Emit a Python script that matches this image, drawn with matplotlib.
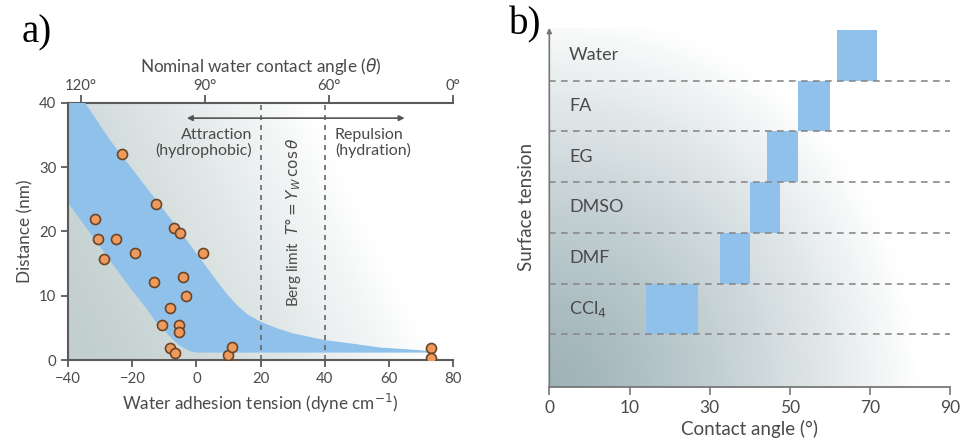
import numpy as np
import matplotlib
matplotlib.use('Agg')
import matplotlib.pyplot as plt
from matplotlib.transforms import blended_transform_factory

plt.rcParams['font.family'] = ['Lato', 'DejaVu Sans']
plt.rcParams['mathtext.fontset'] = 'dejavusans'

# ---------------- Panel a data ----------------
adhesion = [-23.1, -12.5, -31.7, -7.0, -5.1, -30.6, -25.1, 2.0, -19.3, -29.0,
            -13.2, -4.3, -3.3, -8.2, -10.7, -5.4, -5.4, -8.2, -6.7, 10.0,
            11.2, 73.2, 73.2]
distance = [32.0, 24.2, 21.9, 20.6, 19.8, 18.9, 18.9, 16.6, 16.6, 15.8,
            12.2, 13.0, 10.0, 8.1, 5.5, 5.5, 4.4, 1.9, 1.2, 0.9,
            2.1, 1.9, 0.4]

band_upper_x = [-40, -34.8, -27, -5, 0, 4, 7, 10, 13, 16, 20, 25, 30, 40, 50, 57, 66, 73]
band_upper_y = [40, 40, 34.2, 20.0, 16.6, 13.9, 11.9, 10.0, 8.4, 7.1, 6.0, 5.0, 4.2, 3.15, 2.5, 2.0, 1.7, 1.45]
band_lower_x = [-40, -20.2, -16, -12.4, -10, -7.3, -5, -2, 0, 73]
band_lower_y = [24.4, 10.9, 8.3, 5.8, 4.6, 3.2, 2.2, 1.4, 1.2, 1.2]

berg_x = [20, 40]
a_xticks = [-40, -20, 0, 20, 40, 60, 80]
a_yticks = [0, 10, 20, 30, 40]
angle_ticks = [120, 90, 60, 0]
gamma_w = 72.8

# ---------------- Panel b data ----------------
solvents = ['CCl$_4$', 'DMF', 'DMSO', 'EG', 'FA', 'Water']
angle_low = [14, 32.5, 40, 44.2, 52, 61.6]
angle_high = [27, 40, 47.4, 51.9, 59.9, 71.6]
b_ticks = [0, 10, 30, 50, 70, 90]

TXT = '#4a4a4a'
SPINE = '#5a5a5a'
BLUE = '#8fc1ea'

fig = plt.figure(figsize=(9.62, 4.42), dpi=100)


def gradient_bg(rect, c0, t_func, power):
    bg = fig.add_axes(rect, zorder=0)
    bg.axis('off')
    yy, xx = np.mgrid[0:1:200j, 0:1:300j]
    t = np.clip(t_func(xx, yy), 0, 1) ** power
    c0 = np.array(c0)
    img = c0[None, None, :] * (1 - t[..., None]) + t[..., None]
    bg.imshow(img, extent=[0, 1, 0, 1], origin='lower', aspect='auto',
              interpolation='bilinear')
    bg.set_xlim(0, 1)
    bg.set_ylim(0, 1)


# ================= Panel a =================
rect_a = [0.071, 0.1848, 0.3996, 0.5829]
gradient_bg(rect_a, (0.76, 0.81, 0.81), lambda x, y: 1.05 * x + 0.35 * y, 1.4)
ax = fig.add_axes(rect_a, zorder=1)
ax.patch.set_alpha(0)

bx = list(band_upper_x) + list(band_lower_x[::-1])
by = list(band_upper_y) + list(band_lower_y[::-1])
ax.fill(bx, by, color=BLUE, lw=0, zorder=1)

for xv in berg_x:
    ax.axvline(xv, color='#666666', lw=1.2, ls=(0, (3, 3)), zorder=2)

ax.scatter(adhesion, distance, s=52, facecolor='#ee9a5c', edgecolor='#6b4526',
           linewidth=1.2, zorder=4)

ax.annotate('', xy=(-3, 37.6), xytext=(65, 37.6),
            arrowprops=dict(arrowstyle='<|-|>', color='#555555', lw=1.2,
                            mutation_scale=8, shrinkA=0, shrinkB=0), zorder=3)
ax.text(17.4, 36.1, 'Attraction\n(hydrophobic)', ha='right', va='top',
        fontsize=11.5, color=TXT, linespacing=1.1)
ax.text(43.2, 36.1, 'Repulsion\n(hydration)', ha='left', va='top',
        fontsize=11.5, color=TXT, linespacing=1.1)
ax.text(30.2, 21.4, r'Berg limit  $T°=Y_W\,\cos\theta$', rotation=90,
        ha='center', va='center', fontsize=11, color=TXT)

ax.set_xlim(-40, 80)
ax.set_ylim(0, 40)
ax.set_xticks(a_xticks)
ax.set_yticks(a_yticks)
ax.spines['top'].set_visible(False)
ax.spines['right'].set_visible(False)
for s in ('left', 'bottom'):
    ax.spines[s].set_color(SPINE)
    ax.spines[s].set_linewidth(1.5)
ax.tick_params(direction='out', length=5, width=1.3, color=SPINE,
               labelsize=10.7, labelcolor=TXT)
ax.set_xlabel('Water adhesion tension (dyne cm$^{-1}$)', fontsize=12.3,
              color=TXT, labelpad=4)
ax.set_ylabel('Distance (nm)', fontsize=12.3, color=TXT, labelpad=4)


def adh_to_angle(x):
    return np.degrees(np.arccos(np.clip(np.asarray(x, float) / gamma_w, -1, 1)))


def angle_to_adh(t):
    return gamma_w * np.cos(np.radians(np.asarray(t, float)))


sec = ax.secondary_xaxis('top', functions=(adh_to_angle, angle_to_adh))
sec.set_xticks(angle_ticks)
sec.set_xticklabels([f'{a}°' for a in angle_ticks])
sec.spines['top'].set_color(SPINE)
sec.spines['top'].set_linewidth(1.5)
sec.tick_params(direction='out', length=6, width=1.3, color=SPINE,
                labelsize=10.7, labelcolor=TXT, pad=1)
sec.set_xlabel(r'Nominal water contact angle ($\theta$)', fontsize=12.3,
               color=TXT, labelpad=5)

fig.text(0.022, 0.968, 'a)', fontsize=28, family='Liberation Serif',
         va='top', ha='left', color='black')

# ================= Panel b =================
rect_b = [0.571, 0.1244, 0.417, 0.8126]
gradient_bg(rect_b, (0.62, 0.70, 0.72),
            lambda x, y: np.sqrt((x / 0.92) ** 2 + (y / 1.05) ** 2), 1.25)
bx_ = fig.add_axes(rect_b, zorder=1)
bx_.patch.set_alpha(0)

pos = np.arange(len(b_ticks))


def fwd_b(v):
    return np.interp(v, b_ticks, pos)


def inv_b(p):
    return np.interp(p, pos, b_ticks)


bx_.set_xscale('function', functions=(fwd_b, inv_b))
bx_.set_xlim(0, 90)
bx_.set_ylim(-1.04, 6.04)

rows = np.arange(len(solvents))
bx_.barh(rows + 0.5, np.array(angle_high) - np.array(angle_low),
         left=angle_low, height=1.0, color=BLUE, lw=0, zorder=2)
for r in rows:
    bx_.axhline(r, color='#8a8a8a', lw=1.2, ls=(0, (4, 3.2)), zorder=3)

tr = blended_transform_factory(bx_.transAxes, bx_.transData)
for r, name in zip(rows, solvents):
    bx_.text(0.049, r + 0.5, name, transform=tr, ha='left', va='center',
             fontsize=13, color=TXT)

bx_.set_xticks(b_ticks)
bx_.set_xticklabels([str(t) for t in b_ticks])
bx_.set_yticks([])
for s in ('top', 'right', 'left'):
    bx_.spines[s].set_visible(False)
bx_.spines['bottom'].set_color('#777777')
bx_.spines['bottom'].set_linewidth(1.3)
bx_.tick_params(axis='x', direction='out', length=6, width=1.2, color='#777777',
                labelsize=12.5, labelcolor=TXT, pad=3)
bx_.annotate('', xy=(0, 1.0), xytext=(0, 0), xycoords='axes fraction',
             arrowprops=dict(arrowstyle='-|>', color='#777777', lw=1.2,
                             mutation_scale=7, shrinkA=0, shrinkB=0))
bx_.set_xlabel('Contact angle (°)', fontsize=13.5, color=TXT, labelpad=3)
bx_.set_ylabel('Surface tension', fontsize=13.5, color=TXT, labelpad=10)

fig.text(0.529, 0.985, 'b)', fontsize=28, family='Liberation Serif',
         va='top', ha='left', color='black')

fig.savefig('out.png', dpi=100)
